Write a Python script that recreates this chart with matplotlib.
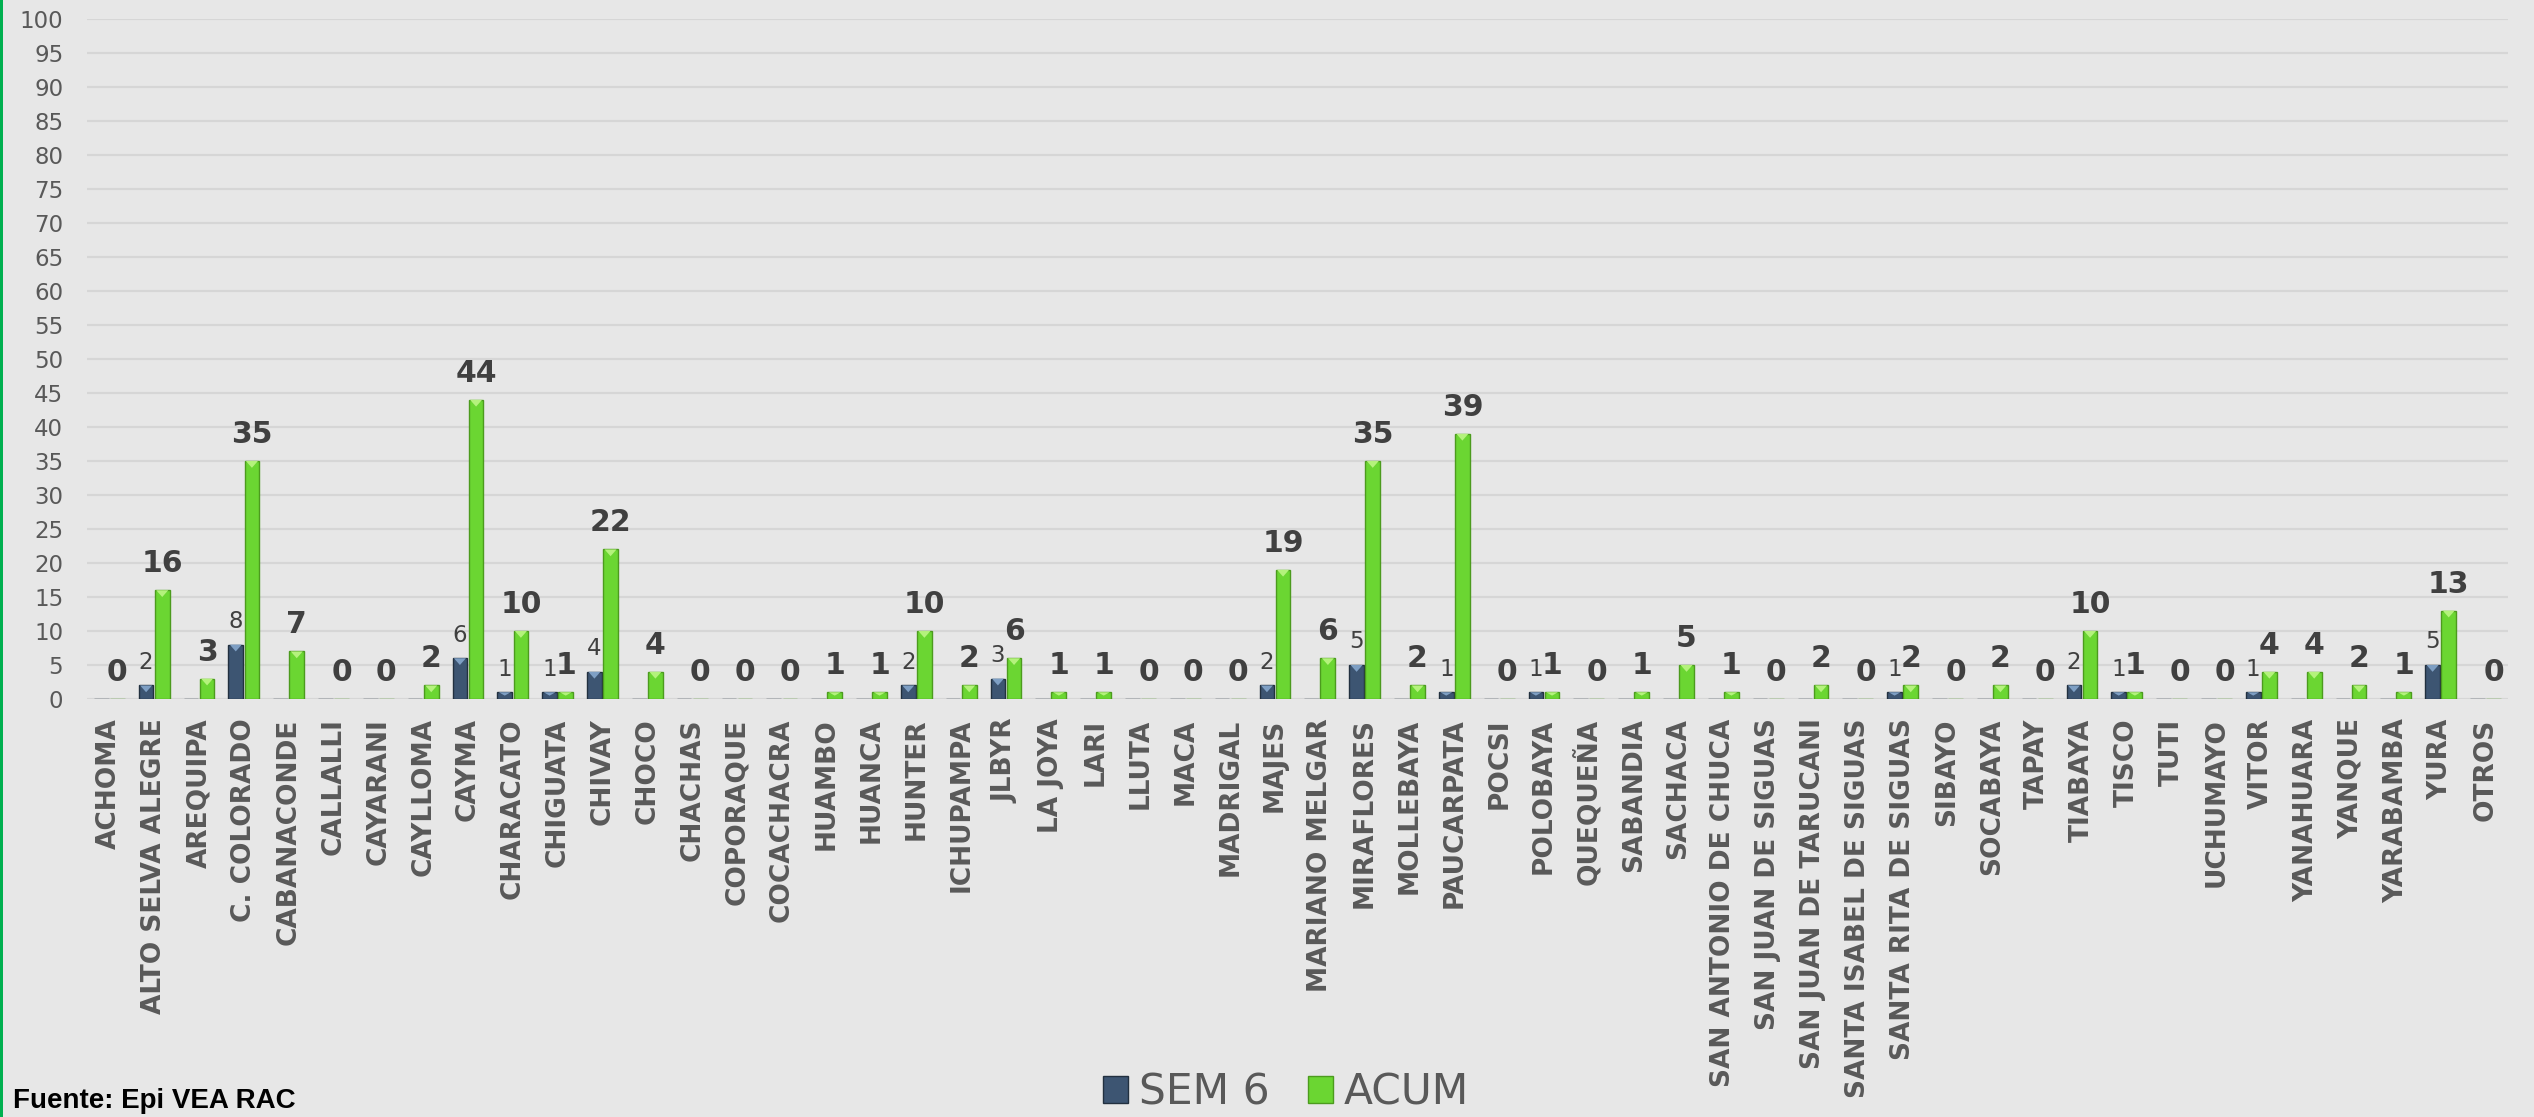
import matplotlib.pyplot as plt
import numpy as np
from matplotlib.patches import Patch, Polygon, Rectangle

# Datos por distrito
distritos = ['ACHOMA', 'ALTO SELVA ALEGRE', 'AREQUIPA', 'C. COLORADO', 'CABANACONDE',
             'CALLALLI', 'CAYARANI', 'CAYLLOMA', 'CAYMA', 'CHARACATO', 'CHIGUATA',
             'CHIVAY', 'CHOCO', 'CHACHAS', 'COPORAQUE', 'COCACHACRA', 'HUAMBO',
             'HUANCA', 'HUNTER', 'ICHUPAMPA', 'JLBYR', 'LA JOYA', 'LARI', 'LLUTA',
             'MACA', 'MADRIGAL', 'MAJES', 'MARIANO MELGAR', 'MIRAFLORES', 'MOLLEBAYA',
             'PAUCARPATA', 'POCSI', 'POLOBAYA', 'QUEQUEÑA', 'SABANDIA', 'SACHACA',
             'SAN ANTONIO DE CHUCA', 'SAN JUAN DE SIGUAS', 'SAN JUAN DE TARUCANI',
             'SANTA ISABEL DE SIGUAS', 'SANTA RITA DE SIGUAS', 'SIBAYO', 'SOCABAYA',
             'TAPAY', 'TIABAYA', 'TISCO', 'TUTI', 'UCHUMAYO', 'VITOR', 'YANAHUARA',
             'YANQUE', 'YARABAMBA', 'YURA', 'OTROS']

sem6 = [0, 2, 0, 8, 0, 0, 0, 0, 6, 1, 1, 4, 0, 0, 0, 0, 0, 0, 2, 0, 3, 0, 0, 0,
        0, 0, 2, 0, 5, 0, 1, 0, 1, 0, 0, 0, 0, 0, 0, 0, 1, 0, 0, 0, 2, 1, 0, 0,
        1, 0, 0, 0, 5, 0]

acum = [0, 16, 3, 35, 7, 0, 0, 2, 44, 10, 1, 22, 4, 0, 0, 0, 1, 1, 10, 2, 6, 1,
        1, 0, 0, 0, 19, 6, 35, 2, 39, 0, 1, 0, 1, 5, 1, 0, 2, 0, 2, 0, 2, 0, 10,
        1, 0, 0, 4, 4, 2, 1, 13, 0]

series_labels = ['SEM 6', 'ACUM']

BG = '#E7E7E7'
C_SEM = '#3D5572'
C_SEM_TOP = '#7E9FC4'
C_SEM_EDGE = '#22303F'
C_ACUM = '#6BD632'
C_ACUM_TOP = '#B4F27C'
C_ACUM_EDGE = '#4C9B1E'

x = np.arange(len(distritos))
w = 0.33
off = 0.18

fig = plt.figure(figsize=(25.34, 11.17), dpi=100, facecolor=BG)
ax = fig.add_axes([0.0343, 0.3742, 0.9554, 0.6088], facecolor=BG)

bars_sem = ax.bar(x - off, sem6, w, color=C_SEM, edgecolor=C_SEM_EDGE, linewidth=1.0, zorder=3)
bars_acum = ax.bar(x + off, acum, w, color=C_ACUM, edgecolor=C_ACUM_EDGE, linewidth=1.0, zorder=3)


def bevel(rects, top_color):
    # light triangle on the top face of each bar
    for r in rects:
        h = r.get_height()
        if h <= 0:
            continue
        x0, bw = r.get_x(), r.get_width()
        d = min(1.0, h * 0.5)
        tri = Polygon([(x0 + 0.03, h), (x0 + bw - 0.03, h), (x0 + bw / 2, h - d)],
                      closed=True, facecolor=top_color, edgecolor='none', zorder=4)
        ax.add_patch(tri)


bevel(bars_sem, C_SEM_TOP)
bevel(bars_acum, C_ACUM_TOP)

# value labels: SEM 6 only when non-zero, ACUM always
for r, v in zip(bars_sem, sem6):
    if v > 0:
        ax.annotate(f'{v}', xy=(r.get_x() + r.get_width() / 2, v), xytext=(0, 12),
                    textcoords='offset points', ha='center', va='baseline',
                    fontsize=16.5, color='#404040', zorder=5)
for r, v in zip(bars_acum, acum):
    ax.annotate(f'{v}', xy=(r.get_x() + r.get_width() / 2, v), xytext=(0, 13),
                textcoords='offset points', ha='center', va='baseline',
                fontsize=21.5, fontweight='bold', color='#404040', zorder=5)

ax.set_xlim(-0.5, len(distritos) - 0.5)
ax.set_ylim(0, 100)
ax.set_yticks(np.arange(0, 101, 5))
ax.set_xticks(x)
ax.set_xticklabels(distritos, rotation=90, fontsize=19, fontweight='bold', color='#595959')
ax.tick_params(axis='y', length=0, pad=17, labelsize=16.5, labelcolor='#595959')
ax.tick_params(axis='x', length=0, pad=14)

ax.grid(axis='y', color='#D6D6D6', linewidth=1.6)
ax.set_axisbelow(True)
for s in ax.spines.values():
    s.set_visible(False)

handles = [Patch(facecolor=C_SEM, edgecolor=C_SEM_EDGE), Patch(facecolor=C_ACUM, edgecolor=C_ACUM_EDGE)]
fig.legend(handles, series_labels, loc='center', bbox_to_anchor=(0.5075, 0.022), ncol=2,
           frameon=False, fontsize=30.5, labelcolor='#595959', handlelength=0.6,
           handleheight=0.6, handletextpad=0.25, columnspacing=0.9)

fig.text(0.0051, 0.008, 'Fuente: Epi VEA RAC', fontsize=20, fontweight='bold',
         family='Liberation Sans', color='black', ha='left', va='baseline')

# green border on the left edge
fig.add_artist(Rectangle((0, 0), 3 / 2534, 1, transform=fig.transFigure,
                         facecolor='#00B050', edgecolor='none'))

fig.savefig('out.png', dpi=100, facecolor=BG)
